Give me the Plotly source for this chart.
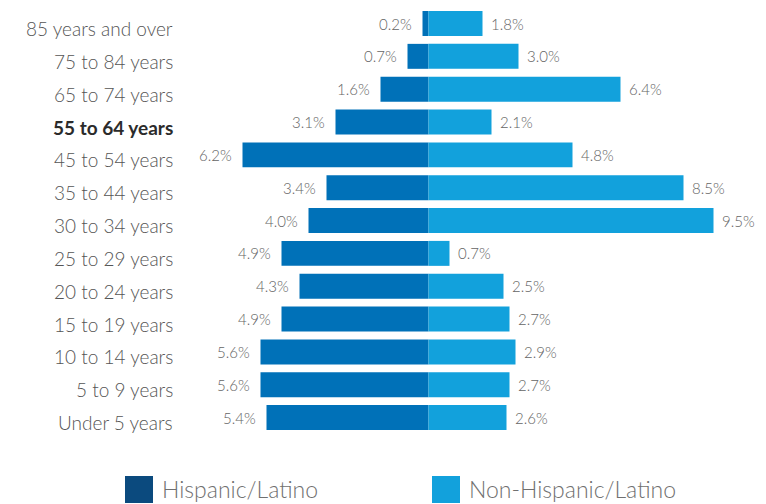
import plotly.graph_objects as go

# Age groups, top to bottom
age_groups = [
    "85 years and over", "75 to 84 years", "65 to 74 years", "55 to 64 years",
    "45 to 54 years", "35 to 44 years", "30 to 34 years", "25 to 29 years",
    "20 to 24 years", "15 to 19 years", "10 to 14 years", "5 to 9 years",
    "Under 5 years",
]
hispanic = [0.2, 0.7, 1.6, 3.1, 6.2, 3.4, 4.0, 4.9, 4.3, 4.9, 5.6, 5.6, 5.4]
non_hispanic = [1.8, 3.0, 6.4, 2.1, 4.8, 8.5, 9.5, 0.7, 2.5, 2.7, 2.9, 2.7, 2.6]
highlight_group = "55 to 64 years"
series_names = ["Hispanic/Latino", "Non-Hispanic/Latino"]

FONT = "Lato"
BAR_DARK = "#0071b8"
BAR_LIGHT = "#12a1dc"
LEGEND_DARK = "#0b4a7e"
TEXT_GRAY = "#555555"
VALUE_GRAY = "#646464"

W, H = 766, 504
L, R, T, B = 180, 728, 5, 434


def px_x(px):
    return (px - L) / (R - L)


def px_y(py):
    return (B - py) / (B - T)


fig = go.Figure()
fig.add_trace(go.Bar(
    y=age_groups, x=[-v for v in hispanic], orientation="h",
    marker=dict(color=BAR_DARK, line=dict(width=0)), width=0.76,
    name=series_names[0], showlegend=False, hoverinfo="skip",
))
fig.add_trace(go.Bar(
    y=age_groups, x=non_hispanic, orientation="h",
    marker=dict(color=BAR_LIGHT, line=dict(width=0)), width=0.76,
    name=series_names[1], showlegend=False, hoverinfo="skip",
))

annotations = []
for g, h, n in zip(age_groups, hispanic, non_hispanic):
    # category label at the left of each row
    bold = g == highlight_group
    annotations.append(dict(
        x=px_x(175), y=g, xref="paper", yref="y",
        text=f"<b>{g}</b>" if bold else g, showarrow=False,
        xanchor="right", yanchor="middle", yshift=-5,
        font=dict(family=FONT, size=19,
                  color="#2b2b2b" if bold else TEXT_GRAY,
                  weight=700 if bold else 300),
    ))
    # value labels at the end of each bar
    annotations.append(dict(
        x=-h, y=g, xref="x", yref="y", text=f"{h:.1f}%", showarrow=False,
        xanchor="right", yanchor="middle", xshift=-9,
        font=dict(family=FONT, size=15, color=VALUE_GRAY, weight=300),
    ))
    annotations.append(dict(
        x=n, y=g, xref="x", yref="y", text=f"{n:.1f}%", showarrow=False,
        xanchor="left", yanchor="middle", xshift=6,
        font=dict(family=FONT, size=15, color=VALUE_GRAY, weight=300),
    ))

# Custom legend: large swatches with labels below the chart
shapes = []
legend_items = [(125, LEGEND_DARK, series_names[0]), (432, BAR_LIGHT, series_names[1])]
for x0, col, label in legend_items:
    shapes.append(dict(
        type="rect", xref="paper", yref="paper",
        x0=px_x(x0), x1=px_x(x0 + 28), y0=px_y(503), y1=px_y(476),
        fillcolor=col, line=dict(width=0),
    ))
    annotations.append(dict(
        x=px_x(x0 + 35), y=px_y(489), xref="paper", yref="paper",
        text=label, showarrow=False, xanchor="left", yanchor="middle",
        font=dict(family=FONT, size=23, color="#707070", weight=300),
    ))

fig.update_layout(
    width=W, height=H,
    margin=dict(l=L, r=W - R, t=T, b=H - B),
    paper_bgcolor="white", plot_bgcolor="white",
    barmode="relative",
    font=dict(family=FONT, color=TEXT_GRAY),
    xaxis=dict(range=[-(428.5 - L) / 30, (R - 428.5) / 30], visible=False,
               fixedrange=True),
    yaxis=dict(
        type="category", categoryorder="array", categoryarray=age_groups,
        autorange="reversed", showticklabels=False, showgrid=False,
        zeroline=False, showline=False, ticks="",
    ),
    shapes=shapes, annotations=annotations,
)

fig.write_html("out.html")
